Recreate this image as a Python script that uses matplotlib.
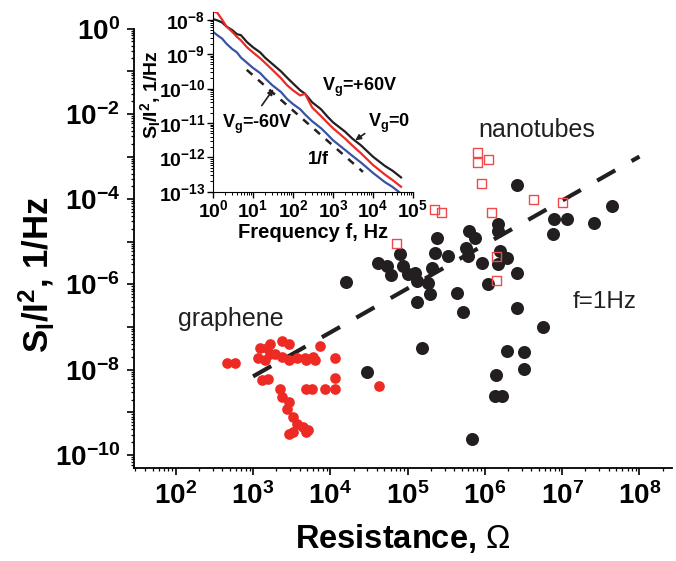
import numpy as np
import matplotlib.pyplot as plt
from matplotlib.ticker import LogLocator, NullFormatter

plt.rcParams['font.family'] = ['Liberation Sans', 'DejaVu Sans']
plt.rcParams['mathtext.fontset'] = 'custom'
plt.rcParams['mathtext.rm'] = 'Liberation Sans'
plt.rcParams['mathtext.bf'] = 'Liberation Sans:bold'
plt.rcParams['mathtext.it'] = 'Liberation Sans:italic'

BLACK = '#231f20'
RED = '#ee2a24'
BLUE = '#3953a4'

# graphene samples (red dots), log10 of resistance [Ohm] and S_I/I^2 [1/Hz]
gr_logR = [2.66, 2.76, 3.09, 3.22, 3.38, 3.47, 3.06, 3.15, 3.28, 3.37, 3.18, 3.22,
           3.47, 3.57, 3.67, 3.77, 3.86, 4.06, 3.69, 3.80, 3.11, 3.19, 3.35, 3.38,
           3.47, 3.44, 3.51, 3.57, 3.64, 3.51, 3.47, 3.69, 3.71, 3.69, 3.76, 3.93,
           4.06, 4.06, 4.63]
gr_logS = [-7.83, -7.83, -7.50, -7.40, -7.33, -7.40, -7.73, -7.76, -7.64, -7.69, -7.50, -7.62,
           -7.76, -7.73, -7.73, -7.69, -7.45, -7.73, -7.76, -7.76, -8.23, -8.21, -8.46, -8.63,
           -8.75, -8.93, -9.10, -9.26, -9.33, -9.45, -9.50, -9.45, -9.41, -8.44, -8.44, -8.44,
           -8.44, -8.20, -8.39]

# nanotube samples (black dots)
nt_logR = [6.41, 7.65, 6.89, 7.06, 6.88, 7.41, 6.17, 6.17, 5.80, 5.87, 5.38, 5.35,
           5.76, 5.78, 5.52, 6.19, 6.29, 6.17, 5.96, 6.41, 6.04, 5.31, 5.26, 5.29,
           5.12, 5.64, 5.71, 6.41, 6.75, 4.61, 4.73, 4.79, 4.90, 4.94, 5.00, 5.09,
           5.12, 4.20, 5.19, 6.28, 6.51, 6.50, 6.14, 6.13, 6.22, 5.83, 4.48]
nt_logS = [-3.66, -4.15, -4.46, -4.46, -4.81, -4.55, -4.58, -4.74, -4.74, -4.91, -4.91, -5.26,
           -5.14, -5.33, -5.33, -5.21, -5.38, -5.52, -5.50, -5.73, -5.99, -5.61, -5.97, -6.23,
           -6.42, -6.20, -6.65, -6.56, -7.00, -5.50, -5.57, -5.78, -5.28, -5.57, -5.76, -5.73,
           -5.92, -5.94, -7.50, -7.55, -7.59, -7.97, -8.13, -8.61, -8.61, -9.62, -8.06]

# nanotube samples (open red squares)
sq_logR = [5.91, 5.91, 6.05, 5.96, 6.63, 7.01, 6.09, 5.35, 5.44, 4.86, 6.15, 6.15]
sq_logS = [-2.91, -3.14, -3.07, -3.64, -4.01, -4.08, -4.32, -4.25, -4.32, -5.05, -5.35, -5.90]

# dashed guide line
fit_R = [1e3, 1e8]
fit_S = [7e-9, 1e-3]

# inset: noise spectra, log10 f [Hz] and log10 S_I/I^2 [1/Hz]
sp_logf = [0, 0.11, 0.23, 0.34, 0.48, 0.6, 0.7, 0.85, 1, 1.18, 1.3, 1.48, 1.7, 1.85,
           2, 2.18, 2.3, 2.48, 2.7, 2.85, 3, 3.3, 3.48, 3.7, 4, 4.3, 4.48, 4.7]
sp_black = [-7.98, -8.02, -8.08, -8.20, -8.30, -8.42, -8.45, -8.65, -8.80, -8.95, -9.10, -9.28,
            -9.50, -9.68, -9.85, -10.05, -10.15, -10.40, -10.60, -10.80, -10.98, -11.25, -11.45,
            -11.65, -11.98, -12.25, -12.38, -12.58]
sp_red = [-7.75, -7.80, -8.00, -8.20, -8.35, -8.50, -8.60, -8.80, -8.95, -9.12, -9.25, -9.45,
          -9.70, -9.90, -10.05, -10.20, -10.15, -10.55, -10.80, -10.98, -11.15, -11.45, -11.65,
          -11.88, -12.22, -12.50, -12.65, -12.85]
sp_blue = [-8.35, -8.45, -8.55, -8.70, -8.85, -8.95, -9.10, -9.25, -9.40, -9.55, -9.70, -9.90,
           -10.10, -10.30, -10.45, -10.60, -10.75, -10.95, -11.15, -11.32, -11.50, -11.78, -11.95,
           -12.15, -12.45, -12.72, -12.85, -13.05]
onef_f = [7, 5.6e3]
onef_S = [3.5e-10, 3.8e-13]

fig = plt.figure(figsize=(6.76, 5.61), dpi=100)
ax = fig.add_axes([0.198, 0.166, 0.796, 0.783])

ax.scatter(10**np.array(gr_logR), 10**np.array(gr_logS), s=59, color=RED, lw=0, zorder=3)
ax.scatter(10**np.array(nt_logR), 10**np.array(nt_logS), s=88, color=BLACK, lw=0, zorder=3)
ax.scatter(10**np.array(sq_logR), 10**np.array(sq_logS), s=42, marker='s',
           facecolor='none', edgecolor='#ef4a4a', lw=1, zorder=4)
ax.plot(fit_R, fit_S, color=BLACK, lw=3, dashes=(5, 4.5), zorder=2)

ax.set_xscale('log')
ax.set_yscale('log')
ax.set_xlim(10**1.457, 10**8.42)
ax.set_ylim(10**-10.3, 1)
ax.xaxis.set_major_locator(LogLocator(base=10, numticks=20))
ax.xaxis.set_minor_locator(LogLocator(base=10, subs=np.arange(2, 10), numticks=20))
ax.xaxis.set_minor_formatter(NullFormatter())
ax.yaxis.set_minor_locator(LogLocator(base=10, subs=np.arange(2, 10), numticks=20))
ax.yaxis.set_minor_formatter(NullFormatter())
ax.set_yticks([10.0**k for k in range(-10, 1)])
ax.set_yticklabels(['$\\mathdefault{10^{%d}}$' % k if k % 2 == 0 else '' for k in range(-10, 1)])
for s in ['top', 'right']:
    ax.spines[s].set_visible(False)
for s in ['left', 'bottom']:
    ax.spines[s].set_linewidth(1.3)
ax.tick_params(which='major', length=5, width=1.2, labelsize=20, pad=5)
ax.tick_params(which='minor', length=2.5, width=0.9)
for lab in ax.get_xticklabels() + ax.get_yticklabels():
    lab.set_fontweight('bold')
ax.set_xlabel('Resistance, $\\Omega$', fontsize=23.5, fontweight='bold', labelpad=9)
ax.set_ylabel('$\\mathbf{S_I/I^2}$, 1/Hz', fontsize=25, fontweight='bold')
ax.yaxis.set_label_coords(-0.145, 0.44)

ax.text(284 / 676, 1 - 326 / 561, 'graphene', transform=fig.transFigure, fontsize=18,
        ha='right', va='baseline', color=BLACK)
ax.text(537 / 676, 1 - 130 / 561, 'nanotubes', transform=fig.transFigure, fontsize=18,
        ha='center', va='center', color=BLACK)
ax.text(573 / 676, 1 - 308 / 561, 'f=1Hz', transform=fig.transFigure, fontsize=17.5,
        ha='left', va='baseline', color=BLACK)

# inset
ins = fig.add_axes([0.315, 0.658, 0.296, 0.321])
ins.plot(10**np.array(sp_logf), 10**np.array(sp_black), color=BLACK, lw=1.6)
ins.plot(10**np.array(sp_logf), 10**np.array(sp_red), color=RED, lw=1.6)
ins.plot(10**np.array(sp_logf), 10**np.array(sp_blue), color=BLUE, lw=1.6)
ins.plot(onef_f, onef_S, color=BLACK, lw=1.8, dashes=(3, 3))
ins.set_xscale('log')
ins.set_yscale('log')
ins.set_xlim(1, 1e5)
ins.set_ylim(1e-13, 10**-7.77)
ins.patch.set_alpha(0)
for s in ['top', 'right']:
    ins.spines[s].set_visible(False)
ins.xaxis.set_major_locator(LogLocator(base=10, numticks=10))
ins.yaxis.set_major_locator(LogLocator(base=10, numticks=10))
ins.xaxis.set_minor_locator(LogLocator(base=10, subs=np.arange(2, 10), numticks=10))
ins.yaxis.set_minor_locator(LogLocator(base=10, subs=np.arange(2, 10), numticks=10))
ins.xaxis.set_minor_formatter(NullFormatter())
ins.yaxis.set_minor_formatter(NullFormatter())
ins.tick_params(which='major', length=4, width=1, labelsize=14, pad=1.5)
ins.tick_params(which='minor', length=2, width=0.7)
for lab in ins.get_xticklabels() + ins.get_yticklabels():
    lab.set_fontweight('bold')
ins.set_xlabel('Frequency f, Hz', fontsize=14.5, fontweight='bold', labelpad=1)
ins.set_ylabel('$\\mathbf{S_I/I^2}$, 1/Hz', fontsize=14, fontweight='bold')
ins.yaxis.set_label_coords(-0.25, 0.54)

ins.text(10**2.73, 10**-9.98, '$\\mathbf{V_g}$=+60V', fontsize=13, fontweight='bold',
         ha='left', va='center')
ins.text(10**0.22, 10**-11.05, '$\\mathbf{V_g}$=-60V', fontsize=13, fontweight='bold',
         ha='left', va='center')
ins.text(10**3.88, 10**-11.0, '$\\mathbf{V_g}$=0', fontsize=13, fontweight='bold',
         ha='left', va='center')
ins.text(10**2.38, 10**-12.07, '1/f', fontsize=13, fontweight='bold', ha='left', va='center')
ins.annotate('', xy=(10**1.55, 10**-9.95), xytext=(10**1.18, 10**-10.56),
             arrowprops=dict(arrowstyle='-|>', color=BLACK, lw=1.2, mutation_scale=8))
ins.annotate('', xy=(10**3.5, 10**-11.55), xytext=(10**3.85, 10**-11.26),
             arrowprops=dict(arrowstyle='-|>', color=BLACK, lw=1.2, mutation_scale=8))

fig.savefig('out.png', dpi=100)
